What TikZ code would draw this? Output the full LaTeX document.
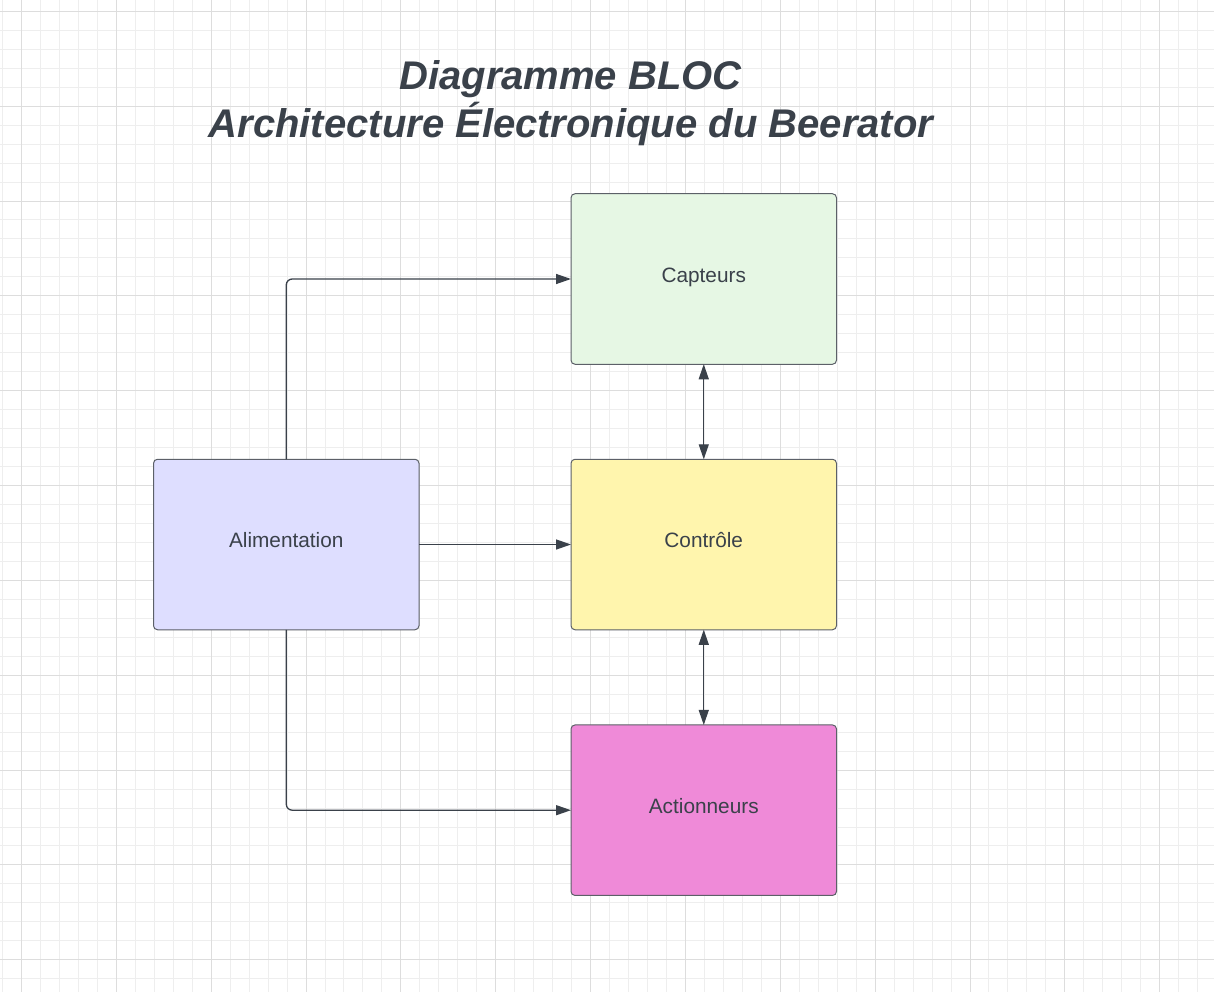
\documentclass[tikz,border=0pt]{standalone}
\usepackage{fontspec}
\setmainfont{Liberation Sans}
\usetikzlibrary{arrows.meta}
\definecolor{ink}{HTML}{3A414A}
\definecolor{edge}{HTML}{5C6068}
\definecolor{gminor}{HTML}{EEEEEE}
\definecolor{gmajor}{HTML}{DDDDDD}
\definecolor{fgreen}{HTML}{E6F7E4}
\definecolor{fyellow}{HTML}{FFF5AD}
\definecolor{fpink}{HTML}{EF8AD8}
\definecolor{fblue}{HTML}{DEDEFF}
\tikzset{
  block/.style={draw=edge, line width=1pt, rounded corners=4pt, rectangle,
    minimum width=265.5pt, minimum height=170.5pt, inner sep=0pt, outer sep=0pt,
    text=ink, font=\fontsize{20.8}{25}\selectfont, text height=10pt, text depth=3.6pt},
  conn/.style={draw=ink, line width=1.3pt, rounded corners=6pt,
    -{Triangle[length=15pt,width=10pt]}},
  conn2/.style={draw=ink, line width=1.3pt,
    {Triangle[length=15pt,width=10pt]}-{Triangle[length=15pt,width=10pt]}},
  titletext/.style={text=ink, font=\fontsize{40}{48}\selectfont\bfseries\itshape, inner sep=0pt, anchor=base},
  minorgrid/.style={draw=gminor, line width=1pt},
  majorgrid/.style={draw=gmajor, line width=1pt}
}
\begin{document}
\begin{tikzpicture}[x=1pt,y=-1pt]
\useasboundingbox (0,0) rectangle (1214,992);
\fill[white] (0,0) rectangle (1214,992);
\begin{scope}
\clip (0,0) rectangle (1214,992);
\foreach \i in {-2,...,63} {
  \pgfmathsetmacro\xx{round(21.5+\i*18.97-0.5)+0.5}
  \draw[minorgrid] (\xx,0) -- (\xx,992);
}
\foreach \j in {-1,...,53} {
  \pgfmathsetmacro\yy{round(11.3+\j*18.97-0.5)+0.5}
  \draw[minorgrid] (0,\yy) -- (1214,\yy);
}
\foreach \i in {-1,...,13} {
  \pgfmathsetmacro\xx{round(21.5+\i*94.85-0.5)+0.5}
  \draw[majorgrid] (\xx,0) -- (\xx,992);
}
\foreach \j in {-1,...,11} {
  \pgfmathsetmacro\yy{round(11.3+\j*94.85-0.5)+0.5}
  \draw[majorgrid] (0,\yy) -- (1214,\yy);
}
\end{scope}

\node[titletext] (t1) at (570.5,89.5) {Diagramme BLOC};
\node[titletext] (t2) at (571,137.5) {Architecture Électronique du Beerator};

\node[block, fill=fgreen]  (capt) at (703.75,279)   {Capteurs};
\node[block, fill=fyellow] (ctrl) at (703.75,544.5) {Contrôle};
\node[block, fill=fpink]   (act)  at (703.75,810.2) {Actionneurs};
\node[block, fill=fblue]   (alim) at (286.25,544.5) {Alimentation};

\draw[conn] (alim.north) |- (capt.west);
\draw[conn] (alim.east) -- (ctrl.west);
\draw[conn] (alim.south) |- (act.west);
\draw[conn2] (capt.south) -- (ctrl.north);
\draw[conn2] (ctrl.south) -- (act.north);
\end{tikzpicture}
\end{document}
